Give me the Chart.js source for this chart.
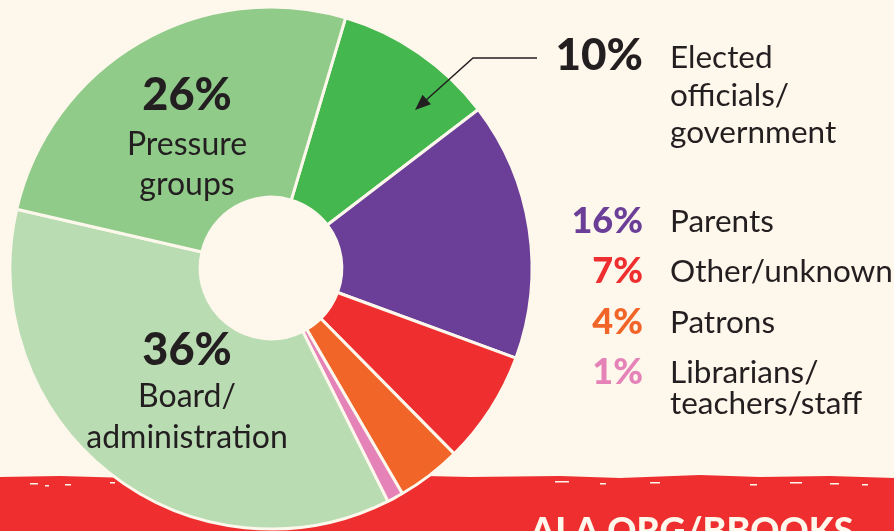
<!DOCTYPE html>
<html>
<head>
<meta charset="utf-8">
<script src="https://cdn.jsdelivr.net/npm/chart.js@4.4.0/dist/chart.umd.min.js"></script>
<style>
  html, body { margin: 0; padding: 0; background: #fdf7ec; }
  #wrap { position: relative; width: 894px; height: 531px; overflow: hidden; }
</style>
</head>
<body>
<div id="wrap"><canvas id="challengeDonut" width="894" height="531"></canvas></div>
<script>
// who initiated challenges (share of total, %)
const categories = ['Elected officials/government', 'Parents', 'Other/unknown', 'Patrons',
                    'Librarians/teachers/staff', 'Board/administration', 'Pressure groups'];
const shares = [10, 16, 7, 4, 1, 36, 26];
const sliceColors = ['#44b74e', '#6b3f98', '#ee2e2f', '#f26529', '#e583b8', '#b9dcb2', '#90cb8a'];

// text lines for each label
const labelLines = [
  ['Elected', 'officials/', 'government'],
  ['Parents'],
  ['Other/unknown'],
  ['Patrons'],
  ['Librarians/', 'teachers/staff'],
  ['Board/', 'administration'],
  ['Pressure', 'groups']
];

const cream = '#fdf7ec';
const ink = '#231f20';
const FONT = 'Lato, "Open Sans", sans-serif';
const HEAVY = '"Lato Black", Lato, "Open Sans", sans-serif';

// background + torn red band behind the donut
const bandEdge = [[0, 477], [60, 476], [130, 478], [200, 476], [290, 477], [380, 475],
                  [470, 477], [560, 476], [620, 478], [700, 475], [760, 477], [830, 476], [894, 478]];
const backdrop = {
  id: 'backdrop',
  beforeDraw(chart) {
    const ctx = chart.ctx;
    ctx.save();
    ctx.fillStyle = cream;
    ctx.fillRect(0, 0, chart.width, chart.height);
    ctx.fillStyle = '#ee2e2f';
    ctx.beginPath();
    ctx.moveTo(0, chart.height);
    bandEdge.forEach(p => ctx.lineTo(p[0], p[1]));
    ctx.lineTo(chart.width, chart.height);
    ctx.closePath();
    ctx.fill();
    // a few scuffs along the torn edge
    ctx.fillStyle = cream;
    [[30, 483, 8], [45, 485, 4], [65, 484, 6], [110, 482, 5], [555, 481, 14], [600, 483, 6],
     [650, 482, 10], [750, 484, 7], [790, 482, 12], [830, 483, 9], [862, 484, 6]].forEach(s => {
      ctx.fillRect(s[0], s[1], s[2], 1.5);
    });
    ctx.restore();
  }
};

// labels, legend text and the arrow
const annotations = {
  id: 'annotations',
  afterDraw(chart) {
    const ctx = chart.ctx;
    ctx.save();
    ctx.textBaseline = 'alphabetic';

    // labels inside the two big slices
    const inside = [
      { i: 6, x: 187, pctY: 110, lineY: [155, 195] },
      { i: 5, x: 187, pctY: 365, lineY: [407, 448] }
    ];
    inside.forEach(d => {
      ctx.textAlign = 'center';
      ctx.fillStyle = ink;
      ctx.font = '900 45px ' + HEAVY;
      ctx.fillText(shares[d.i] + '%', d.x, d.pctY);
      ctx.font = '400 32px ' + FONT;
      labelLines[d.i].forEach((t, k) => ctx.fillText(t, d.x, d.lineY[k]));
    });

    // legend on the right
    const right = [
      { i: 0, pctY: 70, size: 44, color: ink, lineY: [68, 106, 143] },
      { i: 1, pctY: 233, size: 36, color: sliceColors[1], lineY: [232] },
      { i: 2, pctY: 283, size: 36, color: sliceColors[2], lineY: [282] },
      { i: 3, pctY: 334, size: 36, color: sliceColors[3], lineY: [333] },
      { i: 4, pctY: 384, size: 36, color: sliceColors[4], lineY: [383, 414] }
    ];
    right.forEach(d => {
      ctx.textAlign = 'right';
      ctx.fillStyle = d.color;
      ctx.font = '900 ' + d.size + 'px ' + HEAVY;
      ctx.fillText(shares[d.i] + '%', 643, d.pctY);
      ctx.textAlign = 'left';
      ctx.fillStyle = ink;
      ctx.font = '400 31.5px ' + FONT;
      labelLines[d.i].forEach((t, k) => ctx.fillText(t, 670, d.lineY[k]));
    });

    // arrow pointing into the elected slice
    ctx.strokeStyle = ink;
    ctx.lineWidth = 1.5;
    ctx.beginPath();
    ctx.moveTo(537, 58);
    ctx.lineTo(473, 58);
    ctx.lineTo(424, 102);
    ctx.stroke();
    const ang = Math.atan2(110 - 58, 415 - 473);
    ctx.fillStyle = ink;
    ctx.beginPath();
    ctx.moveTo(415, 110);
    ctx.lineTo(415 - 17 * Math.cos(ang - 0.38), 110 - 17 * Math.sin(ang - 0.38));
    ctx.lineTo(415 - 17 * Math.cos(ang + 0.38), 110 - 17 * Math.sin(ang + 0.38));
    ctx.closePath();
    ctx.fill();

    // footer link on the red band
    ctx.textAlign = 'left';
    ctx.fillStyle = cream;
    ctx.font = '900 36px ' + HEAVY;
    ctx.fillText('ALA.ORG/BBOOKS', 530, 543);

    ctx.restore();
  }
};

new Chart(document.getElementById('challengeDonut'), {
  type: 'doughnut',
  data: {
    labels: categories,
    datasets: [{
      data: shares,
      backgroundColor: sliceColors,
      borderColor: cream,
      borderWidth: 3,
      hoverOffset: 0
    }]
  },
  options: {
    responsive: false,
    animation: false,
    rotation: 16.6,
    cutout: 71,
    radius: 261,
    layout: { padding: { left: 0, right: 352, top: 5, bottom: 0 } },
    plugins: {
      legend: { display: false },
      tooltip: { enabled: false }
    }
  },
  plugins: [backdrop, annotations]
});
</script>
</body>
</html>
